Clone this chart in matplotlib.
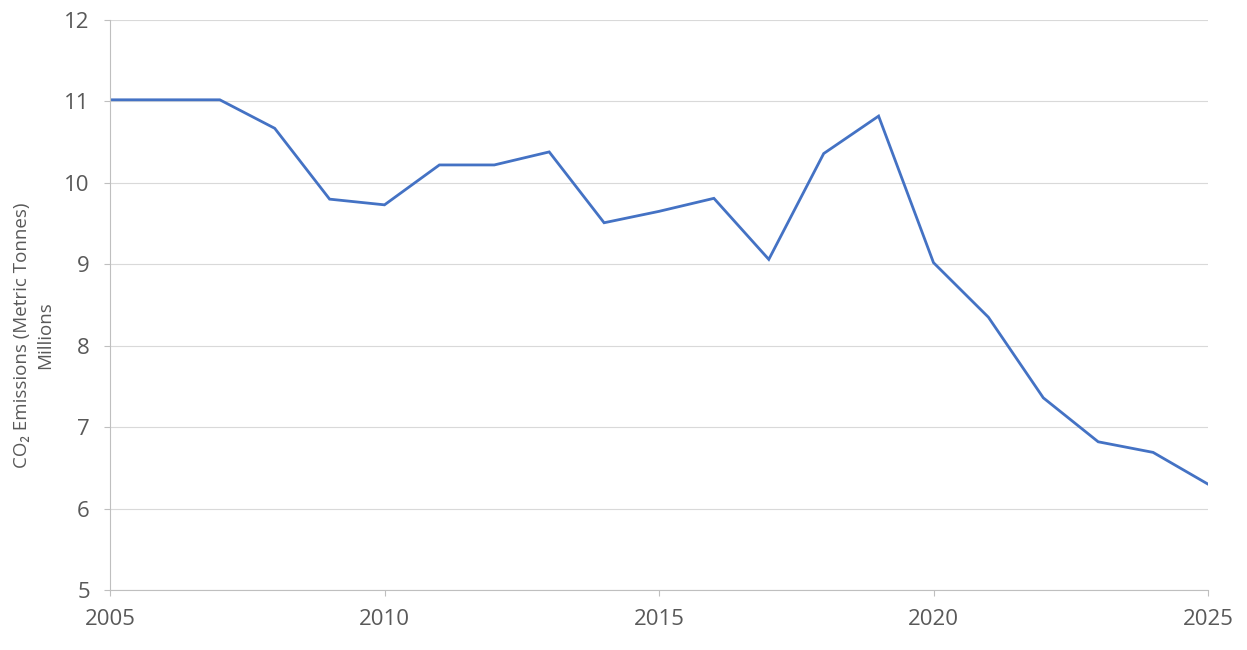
import matplotlib
matplotlib.use("Agg")
import matplotlib.pyplot as plt

years = list(range(2005, 2026))
emissions = [11.02, 11.02, 11.02, 10.67, 9.80, 9.73, 10.22, 10.22, 10.38, 9.51,
             9.65, 9.81, 9.06, 10.36, 10.82, 9.02, 8.35, 7.36, 6.82, 6.69, 6.30]
y_ticks = [5, 6, 7, 8, 9, 10, 11, 12]
x_ticks = [2005, 2010, 2015, 2020, 2025]
y_label = "CO\u2082 Emissions (Metric Tonnes)\nMillions"

plt.rcParams['font.family'] = ['Open Sans', 'DejaVu Sans']

fig = plt.figure(figsize=(12.47, 6.5), dpi=100)
ax = fig.add_axes([110/1247, 1-590/650, (1208-110)/1247, (590-20)/650])

ax.plot(years, emissions, color='#4472C4', linewidth=2.0, solid_joinstyle='miter')

ax.set_xlim(2005, 2025)
ax.set_ylim(5, 12)
ax.set_xticks(x_ticks)
ax.set_yticks(y_ticks)
ax.yaxis.grid(True, color='#D9D9D9', linewidth=0.8)
ax.set_axisbelow(True)

for s in ['top', 'right']:
    ax.spines[s].set_visible(False)
for s in ['left', 'bottom']:
    ax.spines[s].set_color('#BFBFBF')
    ax.spines[s].set_linewidth(0.8)

ax.tick_params(axis='both', colors='#BFBFBF', labelcolor='#595959', labelsize=16,
               length=4.5, width=0.8, direction='out')
ax.tick_params(axis='y', pad=10)
ax.tick_params(axis='x', pad=9)

ax.set_ylabel(y_label, fontsize=13.5, color='#595959', linespacing=1.35)
ax.yaxis.set_label_coords(-0.051, 0.447)

fig.savefig('out.png', dpi=100)
